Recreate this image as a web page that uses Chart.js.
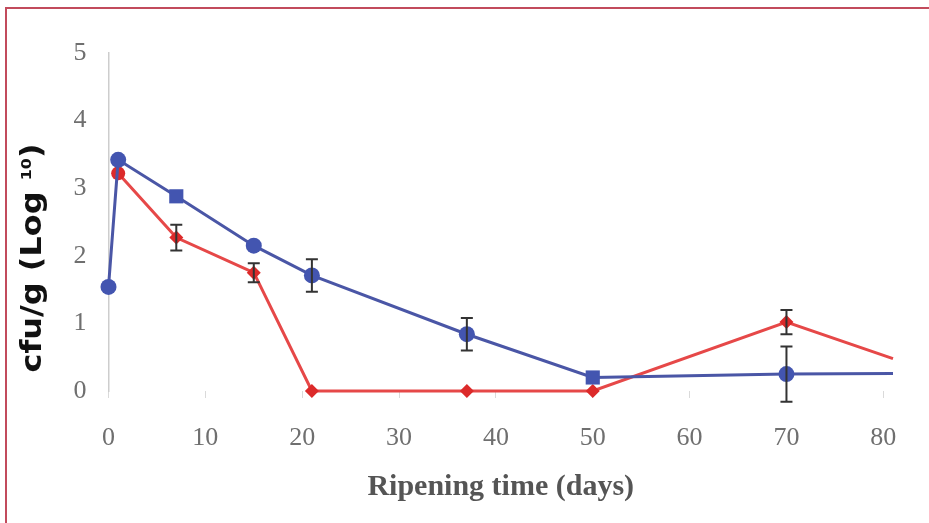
<!DOCTYPE html>
<html>
<head>
<meta charset="utf-8">
<script src="https://cdn.jsdelivr.net/npm/chart.js@4.4.0/dist/chart.umd.min.js"></script>
<style>
  html, body { margin: 0; padding: 0; background: #fff; }
  #wrap { position: relative; width: 929px; height: 523px; overflow: hidden; }
  #frame { position: absolute; left: 5px; top: 7px; right: -5px; bottom: -5px;
           border-top: 2px solid #c24b5c; border-left: 2px solid #c24b5c; pointer-events: none; }
</style>
</head>
<body>
<div id="wrap">
  <canvas id="chart-area" width="929" height="523"></canvas>
  <div id="frame"></div>
</div>
<script>
// data
const blueDays = [0, 1, 7, 15, 21, 37, 50, 70, 81];
const blueLog  = [1.54, 3.42, 2.88, 2.15, 1.71, 0.84, 0.2, 0.25, 0.26];
const blueErr  = [0, 0, 0, 0, 0.24, 0.24, 0, 0.41, 0];

const redDays = [1, 7, 15, 21, 37, 50, 70, 81];
const redLog  = [3.22, 2.27, 1.75, 0, 0, 0, 1.02, 0.48];
const redErr  = [0, 0.19, 0.14, 0, 0, 0, 0.18, 0];

const xTicks = [0, 10, 20, 30, 40, 50, 60, 70, 80];
const yTicks = [0, 1, 2, 3, 4, 5];

function toPoints(xs, ys) {
  return xs.map((d, i) => ({ x: d, y: ys[i] }));
}

const errorBars = {
  id: 'errorBars',
  afterDatasetsDraw(chart) {
    const ctx = chart.ctx;
    const xs = chart.scales.x, ys = chart.scales.y;
    ctx.save();
    ctx.strokeStyle = '#333';
    ctx.lineWidth = 2;
    chart.data.datasets.forEach(ds => {
      const errs = ds.errorBars || [];
      ds.data.forEach((p, i) => {
        const e = errs[i];
        if (!e) return;
        const px = xs.getPixelForValue(p.x);
        const top = ys.getPixelForValue(p.y + e);
        const bot = ys.getPixelForValue(p.y - e);
        ctx.beginPath();
        ctx.moveTo(px, top); ctx.lineTo(px, bot);
        ctx.moveTo(px - 6, top); ctx.lineTo(px + 6, top);
        ctx.moveTo(px - 6, bot); ctx.lineTo(px + 6, bot);
        ctx.stroke();
      });
    });
    ctx.restore();
  }
};

// rotated y title with small raised "10"
const yTitle = {
  id: 'yTitle',
  afterDraw(chart) {
    const ctx = chart.ctx;
    const main = 'cfu/g (Log ', sub = '10', close = ')';
    const big = 'bold 28px "DejaVu Sans"', small = 'bold 14px "DejaVu Sans"';
    ctx.save();
    ctx.font = big;
    const w1 = ctx.measureText(main).width, w3 = ctx.measureText(close).width;
    ctx.font = small;
    const w2 = ctx.measureText(sub).width;
    const total = w1 + w2 + w3;
    ctx.translate(41, 258);
    ctx.rotate(-Math.PI / 2);
    ctx.scale(229 / total, 1);
    ctx.fillStyle = '#111';
    ctx.textAlign = 'left';
    ctx.textBaseline = 'alphabetic';
    let x = -total / 2;
    ctx.font = big; ctx.fillText(main, x, 0); x += w1;
    ctx.font = small; ctx.fillText(sub, x, -10); x += w2;
    ctx.font = big; ctx.fillText(close, x, 0);
    ctx.restore();
  }
};

const ctx = document.getElementById('chart-area').getContext('2d');
new Chart(ctx, {
  type: 'scatter',
  data: {
    datasets: [{
      label: 'blue',
      data: toPoints(blueDays, blueLog),
      errorBars: blueErr,
      showLine: true,
      borderColor: '#4a56a6',
      backgroundColor: '#4355b0',
      borderWidth: 3,
      pointStyle: ['circle', 'circle', 'rect', 'circle', 'circle', 'circle', 'rect', 'circle', 'circle'],
      pointRadius: [8, 8, 10, 8, 8, 8, 10, 8, 0],
      pointBorderWidth: 0,
      clip: false
    }, {
      label: 'red',
      data: toPoints(redDays, redLog),
      errorBars: redErr,
      showLine: true,
      borderColor: '#e64848',
      backgroundColor: '#dc2a2a',
      borderWidth: 3,
      pointStyle: ['circle', 'rectRot', 'rectRot', 'rectRot', 'rectRot', 'rectRot', 'rectRot', 'rectRot'],
      pointRadius: [7, 7, 7, 7, 7, 7, 7, 0],
      pointBorderWidth: 0,
      clip: false
    }]
  },
  options: {
    responsive: false,
    animation: false,
    layout: { padding: { left: 0, top: 53, right: 36, bottom: 0 } },
    plugins: { legend: { display: false }, tooltip: { enabled: false } },
    scales: {
      x: {
        type: 'linear',
        min: 0,
        max: 81,
        afterBuildTicks: s => { s.ticks = xTicks.map(v => ({ value: v })); },
        afterFit: s => { s.height = 132; },
        grid: { display: true, drawOnChartArea: false, drawTicks: true, tickLength: 7, color: '#dadada' },
        border: { display: false },
        ticks: { padding: 25, color: '#6f6f6f', font: { family: '"Liberation Serif"', size: 26 } },
        title: {
          display: true,
          text: 'Ripening time (days)',
          color: '#555',
          font: { family: '"Liberation Serif"', size: 30, weight: 'bold' },
          padding: { top: 0, bottom: 18 }
        }
      },
      y: {
        min: 0,
        max: 5,
        afterBuildTicks: s => { s.ticks = yTicks.map(v => ({ value: v })); },
        afterFit: s => { s.width = 108.5; },
        grid: { display: false },
        border: { display: true, color: '#cdcdcd', width: 1.5 },
        ticks: { padding: 14, color: '#6f6f6f', font: { family: '"Liberation Serif"', size: 26 } }
      }
    }
  },
  plugins: [errorBars, yTitle]
});
</script>
</body>
</html>
